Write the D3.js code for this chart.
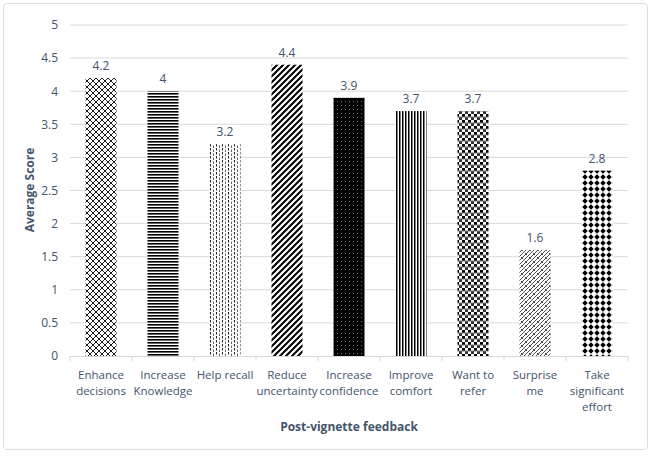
<!DOCTYPE html>
<html>
<head>
<meta charset="utf-8">
<style>
  body { margin: 0; background: #fff; }
  text { font-family: "Open Sans", "Liberation Sans", sans-serif; }
</style>
</head>
<body>
<svg id="chart" width="652" height="461"></svg>
<script src="https://cdn.jsdelivr.net/npm/d3@7"></script>
<script>
const categories = [["Enhance", "decisions"], ["Increase", "Knowledge"], ["Help recall"], ["Reduce", "uncertainty"],
  ["Increase", "confidence"], ["Improve", "comfort"], ["Want to", "refer"], ["Surprise", "me"], ["Take", "significant", "effort"]]
const scores = [4.2, 4, 3.2, 4.4, 3.9, 3.7, 3.7, 1.6, 2.8]
const yTicks = [0, 0.5, 1, 1.5, 2, 2.5, 3, 3.5, 4, 4.5, 5]
const patternIds = ["lattice", "hlines", "dashv", "wdiag", "dotted", "vlines", "checker", "weave", "dots"]

const svg = d3.select("#chart")
const textColor = "#44546a"

// chart frame
svg.append("rect").attr("x", 3.5).attr("y", 3.5).attr("width", 644).attr("height", 446)
  .attr("rx", 3).attr("fill", "#fff").attr("stroke", "#d9dde3")

// fill patterns, roughly like the office ones
const defs = svg.append("defs")
function pat(id, w, h) {
  return defs.append("pattern").attr("id", id).attr("patternUnits", "userSpaceOnUse")
    .attr("width", w).attr("height", h)
}
let p = pat("lattice", 6, 6)
p.append("rect").attr("width", 6).attr("height", 6).attr("fill", "#fff")
p.append("path").attr("d", "M0,0L6,6M6,0L0,6").attr("stroke", "#000").attr("stroke-width", 0.9)
p = pat("hlines", 4, 3)
p.append("rect").attr("width", 4).attr("height", 3).attr("fill", "#fff")
p.append("rect").attr("y", 0).attr("width", 4).attr("height", 1.6).attr("fill", "#000")
p = pat("dashv", 6, 4)
p.append("rect").attr("width", 6).attr("height", 4).attr("fill", "#fff")
p.append("rect").attr("x", 0).attr("y", 0).attr("width", 1).attr("height", 2.5).attr("fill", "#222")
p.append("rect").attr("x", 3).attr("y", 1.5).attr("width", 1).attr("height", 2.5).attr("fill", "#666")
p = pat("wdiag", 6, 6)
p.append("rect").attr("width", 6).attr("height", 6).attr("fill", "#fff")
p.append("path").attr("d", "M-1.5,7.5L7.5,-1.5M-1.5,1.5L1.5,-1.5M4.5,7.5L7.5,4.5").attr("stroke", "#000").attr("stroke-width", 2)
p = pat("dotted", 4, 4)
p.append("rect").attr("width", 4).attr("height", 4).attr("fill", "#000")
p.append("rect").attr("x", 1).attr("y", 1).attr("width", 1).attr("height", 1).attr("fill", "#777")
p = pat("vlines", 3, 4)
p.append("rect").attr("width", 3).attr("height", 4).attr("fill", "#fff")
p.append("rect").attr("width", 1.5).attr("height", 4).attr("fill", "#000")
p = pat("checker", 6, 6)
p.append("rect").attr("width", 6).attr("height", 6).attr("fill", "#fff")
p.append("rect").attr("width", 3).attr("height", 3).attr("fill", "#000")
p.append("rect").attr("x", 3).attr("y", 3).attr("width", 3).attr("height", 3).attr("fill", "#333")
p.append("rect").attr("y", 2.5).attr("width", 6).attr("height", 1).attr("fill", "#777")
p = pat("weave", 8, 8)
p.append("rect").attr("width", 8).attr("height", 8).attr("fill", "#fff")
p.append("path").attr("d", "M0,8L8,0M0,4L4,0M4,8L8,4M1,1L3,3M5,5L7,7").attr("stroke", "#222").attr("stroke-width", 0.8)
p = pat("dots", 6, 6)
p.append("rect").attr("width", 6).attr("height", 6).attr("fill", "#fff")
p.append("path").attr("d", "M3,0.3L5.7,3L3,5.7L0.3,3Z").attr("fill", "#000")

const x = d3.scaleBand().domain(d3.range(categories.length)).range([70, 628]).paddingInner(0.5).paddingOuter(0.25)
const y = d3.scaleLinear().domain([0, 5]).range([356, 25])

// gridlines
svg.append("g").selectAll("line").data(yTicks.slice(1)).enter().append("line")
  .attr("x1", 70).attr("x2", 628).attr("y1", d => y(d)).attr("y2", d => y(d))
  .attr("stroke", "#d9d9d9").attr("stroke-width", 1)

// y axis labels
const yAxis = svg.append("g").attr("transform", "translate(58,0)")
  .call(d3.axisLeft(y).tickValues(yTicks).tickSize(0).tickPadding(0).tickFormat(d3.format("")))
yAxis.select(".domain").remove()
yAxis.selectAll("text").attr("fill", textColor).attr("font-size", 12).attr("font-family", "Open Sans")

// bars
svg.append("g").selectAll("rect").data(scores).enter().append("rect")
  .attr("x", (d, i) => x(i)).attr("width", x.bandwidth())
  .attr("y", d => y(d)).attr("height", d => y(0) - y(d))
  .attr("fill", (d, i) => "url(#" + patternIds[i] + ")")

// value labels
svg.append("g").selectAll("text").data(scores).enter().append("text")
  .attr("x", (d, i) => x(i) + x.bandwidth() / 2).attr("y", d => y(d) - 8)
  .attr("text-anchor", "middle").attr("fill", textColor).attr("font-size", 12)
  .text(d => d)

// x axis line and ticks
const band = (628 - 70) / categories.length
svg.append("line").attr("x1", 70).attr("x2", 628).attr("y1", 356.5).attr("y2", 356.5).attr("stroke", "#d9d9d9")
svg.append("g").selectAll("line").data(d3.range(categories.length + 1)).enter().append("line")
  .attr("x1", d => 70 + d * band).attr("x2", d => 70 + d * band)
  .attr("y1", 356).attr("y2", 361).attr("stroke", "#d9d9d9")

// category labels
const labels = svg.append("g").selectAll("text").data(categories).enter().append("text")
  .attr("x", (d, i) => x(i) + x.bandwidth() / 2).attr("y", 379)
  .attr("text-anchor", "middle").attr("fill", textColor).attr("font-size", 11.5)
labels.selectAll("tspan").data(d => d).enter().append("tspan")
  .attr("x", function () { return this.parentNode.getAttribute("x") })
  .attr("dy", (d, i) => i === 0 ? 0 : 16)
  .text(d => d)

// axis titles
svg.append("text").attr("x", 349).attr("y", 431).attr("text-anchor", "middle")
  .attr("fill", textColor).attr("font-size", 12).attr("font-weight", "bold").text("Post-vignette feedback")
svg.append("text").attr("transform", "translate(34,190) rotate(-90)").attr("text-anchor", "middle")
  .attr("fill", textColor).attr("font-size", 12).attr("font-weight", "bold").text("Average Score")
</script>
</body>
</html>
